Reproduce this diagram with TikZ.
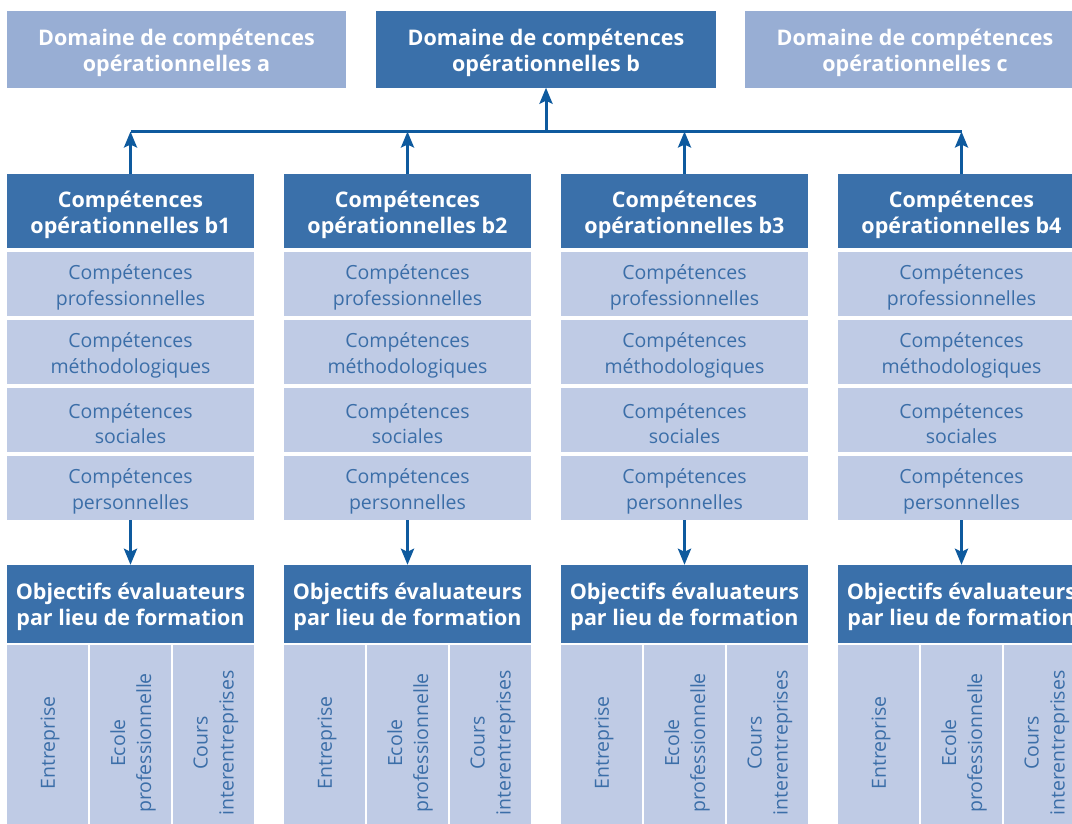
\documentclass[tikz,border=0pt]{standalone}
\usepackage{fontspec}
\setmainfont{Open Sans}
\usetikzlibrary{arrows.meta}
\definecolor{darkbox}{HTML}{3A70AA}
\definecolor{lighttop}{HTML}{98AED4}
\definecolor{subfill}{HTML}{BFCBE5}
\definecolor{subtext}{HTML}{3B6EA8}
\definecolor{conncol}{HTML}{0E5A9E}
\begin{document}
\begin{tikzpicture}[x=1pt,y=-1pt,
  shape box/.style={rectangle, inner sep=0pt},
  dbox/.style={shape box, fill=darkbox},
  lbox/.style={shape box, fill=lighttop},
  colbox/.style={dbox, minimum width=247pt},
  htext/.style={inner sep=0pt, align=center, text=white,
    font=\bfseries\fontsize{21.5}{26}\selectfont},
  subbox/.style={shape box, fill=subfill, minimum width=247pt, minimum height=64pt},
  stext/.style={inner sep=0pt, text=subtext, align=center,
    font=\fontsize{19.5}{25.5}\selectfont},
  cellbox/.style={shape box, fill=subfill, minimum width=81pt, minimum height=196pt},
  vtext/.style={rotate=90, text=subtext, align=center, inner sep=0pt,
    font=\fontsize{19.5}{26}\selectfont},
  conn/.style={draw=conncol, line width=3pt},
  arr/.style={conn, -{Stealth[length=16pt,width=13pt,inset=3pt]}}
]
\useasboundingbox (0,0) rectangle (1072,823);
\clip (0,0) rectangle (1072,823);
\fill[white] (0,0) rectangle (1072,823);

\node[lbox, minimum width=339pt, minimum height=77pt] (da) at (176.5,49) {};
\node[dbox, minimum width=340pt, minimum height=77pt] (db) at (546,49) {};
\node[lbox, minimum width=340pt, minimum height=77pt] (dc) at (915,49) {};
\node[htext] (dat) at ([yshift=-3.5pt]da.center) {Domaine de compétences\\opérationnelles a};
\node[htext] (dbt) at ([yshift=-3.5pt]db.center) {Domaine de compétences\\opérationnelles b};
\node[htext] (dct) at ([yshift=-3.5pt]dc.center) {Domaine de compétences\\opérationnelles c};

\foreach \i/\cx in {1/130.5,2/407.5,3/684.5,4/961.5}{
  \node[colbox, minimum height=74pt] (h\i) at (\cx,211) {};
  \node[htext] (ht\i) at ([yshift=-4pt]h\i.center) {Compétences\\opérationnelles b\i};
  \node[subbox] (s\i a) at (\cx,284) {};
  \node[subbox] (s\i b) at (\cx,352) {};
  \node[subbox] (s\i c) at (\cx,420) {};
  \node[subbox] (s\i d) at (\cx,488) {};
  \node[stext] (st\i a) at ([yshift=-3.5pt]s\i a.center) {Compétences\\professionnelles};
  \node[stext] (st\i b) at ([yshift=-3.5pt]s\i b.center) {Compétences\\méthodologiques};
  \node[stext] (st\i c) at ([yshift=-3.5pt]s\i c.center) {Compétences\\sociales};
  \node[stext] (st\i d) at ([yshift=-3.5pt]s\i d.center) {Compétences\\personnelles};
  \node[colbox, minimum height=78pt] (o\i) at (\cx,604) {};
  \node[htext] (ot\i) at ([yshift=-3pt]o\i.center) {Objectifs évaluateurs\\par lieu de formation};
  \node[cellbox] (e\i) at (\cx-83,743) {};
  \node[cellbox] (p\i) at (\cx,743) {};
  \node[cellbox] (k\i) at (\cx+83,743) {};
  \node[vtext] (te\i) at ([xshift=2.5pt]e\i.center) {Entreprise};
  \node[vtext] (tp\i) at ([xshift=2.5pt]p\i.center) {Ecole\\professionnelle};
  \node[vtext] (tk\i) at ([xshift=2.5pt]k\i.center) {Cours\\interentreprises};
  \coordinate (j\i) at (\cx,131.5);
  \draw[arr] (h\i.north) -- (j\i);
  \draw[arr] (s\i d.south) -- (o\i.north);
}
\coordinate (jb) at (db.south |- j1);
\draw[conn] (j1) -- (j4);
\draw[arr] (jb) -- (db.south);
\end{tikzpicture}
\end{document}
